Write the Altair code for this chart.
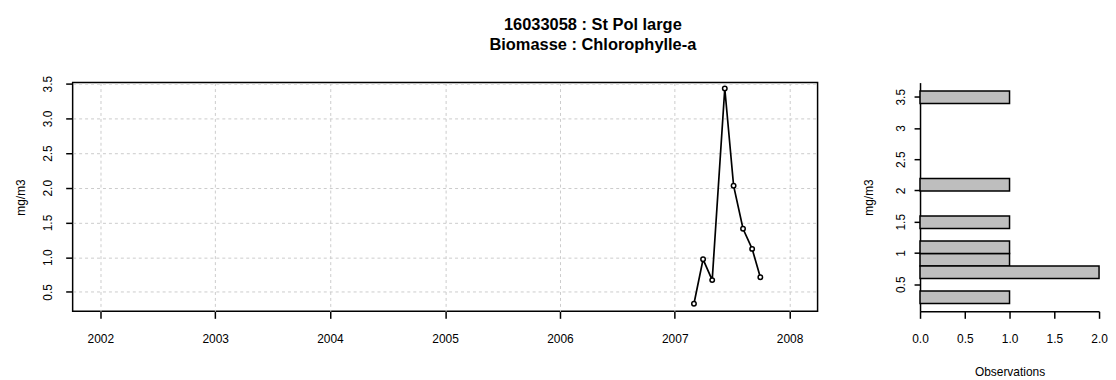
import altair as alt
import pandas as pd

# ---- data ----
dates = ["2007-03-03", "2007-04-01", "2007-04-30", "2007-06-09",
         "2007-07-07", "2007-08-06", "2007-09-04", "2007-09-30"]
values = [0.33, 0.97, 0.67, 3.43, 2.03, 1.41, 1.12, 0.71]

year_ticks = [2002, 2003, 2004, 2005, 2006, 2007, 2008]
y_ticks = [0.5, 1.0, 1.5, 2.0, 2.5, 3.0, 3.5]
hist_x_ticks = [0.0, 0.5, 1.0, 1.5, 2.0]

title_lines = ["16033058 : St Pol large", "Biomasse : Chlorophylle-a"]

df = pd.DataFrame({"date": dates, "value": values})

FONT = "Liberation Sans"
FS = 12

# ---- left panel: time series ----
x_enc = alt.X(
    "date:T",
    scale=alt.Scale(domain=[alt.DateTime(year=2001, month=10, date=5),
                            alt.DateTime(year=2008, month=3, date=30)]),
    axis=alt.Axis(
        values=[alt.DateTime(year=y, month=1, date=1) for y in year_ticks],
        format="%Y", title=None, grid=True, gridColor="#cccccc",
        gridDash=[3, 3], gridWidth=1, domain=False, tickColor="black",
        tickSize=7, tickWidth=1.5, labelPadding=15, labelFontSize=FS,
        labelFont=FONT, labelColor="black", labelFlush=False,
    ),
)
y_enc = alt.Y(
    "value:Q",
    scale=alt.Scale(domain=[0.22, 3.515], nice=False, zero=False),
    axis=alt.Axis(
        values=y_ticks, format=".1f", grid=True, gridColor="#cccccc",
        gridDash=[3, 3], gridWidth=1, domain=False, tickColor="black",
        tickSize=7, tickWidth=1.5, labelAngle=270, labelAlign="center",
        labelBaseline="middle", labelPadding=18, labelFontSize=FS,
        labelFont=FONT, labelColor="black", labelFlush=False,
        title="mg/m3", titleAngle=270, titleX=-52, titleY=115,
        titleAlign="center", titleBaseline="middle", titleFontWeight="normal",
        titleFontSize=FS, titleFont=FONT, titleColor="black",
    ),
)

base = alt.Chart(df)
line = base.mark_line(color="black", strokeWidth=1.7).encode(x=x_enc, y=y_enc)
pts = base.mark_circle(color="white", stroke="black", strokeWidth=1.5,
                       size=20, opacity=1).encode(x=x_enc, y=y_enc)
left = alt.layer(line, pts).properties(
    width=749, height=230,
    view=alt.ViewBackground(stroke="black", strokeWidth=1.5),
)

# ---- right panel: histogram ----
hist = alt.Chart(df).mark_bar(
    color="#bebebe", stroke="black", strokeWidth=1.5, binSpacing=0
).encode(
    y=alt.Y(
        "value:Q", bin=alt.Bin(step=0.2, extent=[0.2, 3.6]),
        scale=alt.Scale(domain=[0.066, 3.727], nice=False, zero=False),
        axis=alt.Axis(
            values=y_ticks, format="~g", grid=False, domain=True,
            domainColor="black", domainWidth=1.5, tickColor="black",
            tickSize=6, tickWidth=1.5, labelAngle=270, labelAlign="center",
            labelBaseline="middle", labelPadding=14, labelFontSize=FS,
            labelFont=FONT, labelColor="black", labelFlush=False,
            title="mg/m3", titleAngle=270, titleX=-52, titleY=115,
            titleAlign="center", titleBaseline="middle",
            titleFontWeight="normal", titleFontSize=FS, titleFont=FONT,
            titleColor="black",
        ),
    ),
    x=alt.X(
        "count():Q",
        scale=alt.Scale(domain=[0, 2], nice=False),
        axis=alt.Axis(
            values=hist_x_ticks, format=".1f", grid=False, domain=True,
            domainColor="black", domainWidth=1.5, tickColor="black",
            tickSize=7, tickWidth=1.5, labelPadding=15, labelFontSize=FS,
            labelFont=FONT, labelColor="black", labelFlush=False,
            title="Observations", titleX=90, titleY=60, titleAlign="center",
            titleBaseline="middle", titleFontWeight="normal",
            titleFontSize=FS, titleFont=FONT, titleColor="black",
        ),
    ),
).properties(width=180, height=230)

chart = alt.hconcat(left, hist, spacing=103, bounds="flush").properties(
    title=alt.TitleParams(
        text=title_lines, fontSize=16.5, fontWeight="bold", font=FONT,
        color="black", lineHeight=20, anchor="middle", offset=21, dx=32,
    ),
    padding={"left": 6, "top": 8, "right": 0, "bottom": 0},
).configure_view(stroke="transparent")

chart.save("out.html", embed_options={"renderer": "svg", "actions": False})
